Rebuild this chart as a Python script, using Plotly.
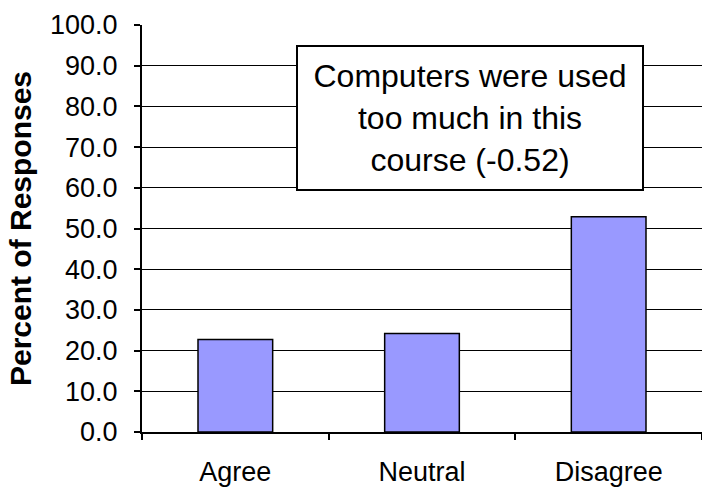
import plotly.graph_objects as go

categories = ["Agree", "Neutral", "Disagree"]
percent_values = [22.7, 24.2, 52.9]
y_tick_values = [0, 10, 20, 30, 40, 50, 60, 70, 80, 90, 100]
y_tick_labels = ["0.0", "10.0", "20.0", "30.0", "40.0", "50.0", "60.0", "70.0", "80.0", "90.0", "100.0"]
y_title = "Percent of Responses"
box_text = "Computers were used<br>too much in this<br>course (-0.52)"

FONT = "Liberation Sans, Arial, sans-serif"

fig = go.Figure(
    go.Bar(
        x=categories,
        y=percent_values,
        marker=dict(color="#9999FF", line=dict(color="black", width=1.5)),
    )
)

fig.update_layout(
    width=702,
    height=487,
    margin=dict(l=142, r=0, t=25, b=55),
    paper_bgcolor="white",
    plot_bgcolor="white",
    bargap=0.6,
    showlegend=False,
    font=dict(family=FONT, color="black", size=27),
)

fig.update_xaxes(
    type="category",
    showline=True,
    linecolor="black",
    linewidth=2,
    ticks="outside",
    tickson="boundaries",
    ticklen=6,
    tickwidth=2,
    tickcolor="black",
    tickfont=dict(family=FONT, size=27, color="black"),
    ticklabelstandoff=15,
    showgrid=False,
)

fig.update_yaxes(
    range=[0, 100],
    tickvals=y_tick_values,
    ticktext=y_tick_labels,
    showline=True,
    linecolor="black",
    linewidth=2,
    ticks="outside",
    ticklen=6,
    tickwidth=1.5,
    tickcolor="black",
    tickfont=dict(family=FONT, size=27, color="black"),
    ticklabelstandoff=11,
    showgrid=True,
    gridcolor="black",
    gridwidth=1,
    zeroline=False,
    title=dict(text="<b>" + y_title + "</b>", font=dict(family=FONT, size=30, color="black"), standoff=10),
)

fig.add_annotation(
    xref="paper",
    yref="paper",
    x=0.5857,
    y=0.7707,
    xanchor="center",
    yanchor="middle",
    text=box_text,
    showarrow=False,
    align="center",
    font=dict(family=FONT, size=32, color="black"),
    bgcolor="white",
    bordercolor="black",
    borderwidth=2,
    borderpad=4,
    width=336,
    height=134,
)

fig.write_html(
    "out.html",
    config={"displayModeBar": False},
    post_script="document.body.style.margin='0';document.body.style.padding='0';",
)
